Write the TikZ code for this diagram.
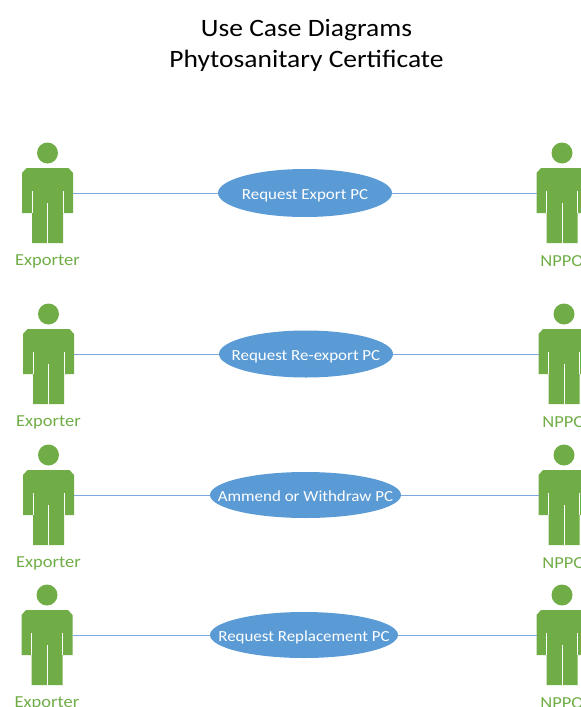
\documentclass[tikz,border=0pt]{standalone}
\usepackage{fontspec}
\setmainfont[FakeStretch=1.1]{Carlito}
\usetikzlibrary{shapes.geometric}
\definecolor{actorgreen}{HTML}{70AD47}
\definecolor{caseblue}{HTML}{5B9BD5}
\definecolor{linkblue}{HTML}{7FA9DC}
\tikzset{
  casenode/.style={ellipse,fill=caseblue,inner sep=0pt,text=white,font=\fontsize{15.4}{17}\selectfont},
  actorlabel/.style={text=actorgreen,font=\fontsize{16.8}{19}\selectfont},
  link/.style={linkblue,line width=0.9pt},
  pics/actor/.style={code={
    \fill[actorgreen] (0,0) circle (10.5);
    \fill[actorgreen] (-21,15) -- (21,15) -- (25.5,20) -- (25.5,60) -- (15.5,60) -- (15.5,90)
      -- (-15.5,90) -- (-15.5,60) -- (-25.5,60) -- (-25.5,20) -- cycle;
    \draw[white,line width=0.7pt] (-15.5,38) -- (-15.5,60);
    \draw[white,line width=0.7pt] (15.5,38) -- (15.5,60);
    \draw[white,line width=0.7pt] (0,50) -- (0,90);
    \node[actorlabel] (-label) at (0,108.5) {#1};
    \coordinate (-left) at (-25.5,40);
    \coordinate (-right) at (25.5,40);
  }}
}
\begin{document}
\begin{tikzpicture}[x=1pt,y=-1pt]
  \useasboundingbox (0,0) rectangle (581,707);

  \node[font=\fontsize{25}{31}\selectfont,align=center] (title) at (306.5,45) {Use Case Diagrams\\Phytosanitary Certificate};

  \foreach \i/\ex/\nx/\y/\cx/\w/\h/\txt in {
    1/47.5/562/153/305/174/48/Request Export PC,
    2/48.5/564/314/306/174/47/Request Re-export PC,
    3/48.5/564/455/305.5/191/46/Ammend or Withdraw PC,
    4/47/562/595/304/188/46/Request Replacement PC} {
    \pic (exporter\i) at (\ex,\y) {actor=Exporter};
    \pic (nppo\i) at (\nx,\y) {actor=NPPO};
    \node[casenode,minimum width=\w pt,minimum height=\h pt] (case\i) at (\cx,\y+40) {\smash{\raisebox{-6pt}{\makebox[0pt]{\txt}}}};
    \draw[link] (exporter\i-right) -- (case\i);
    \draw[link] (case\i) -- (nppo\i-left);
  }
\end{tikzpicture}
\end{document}
